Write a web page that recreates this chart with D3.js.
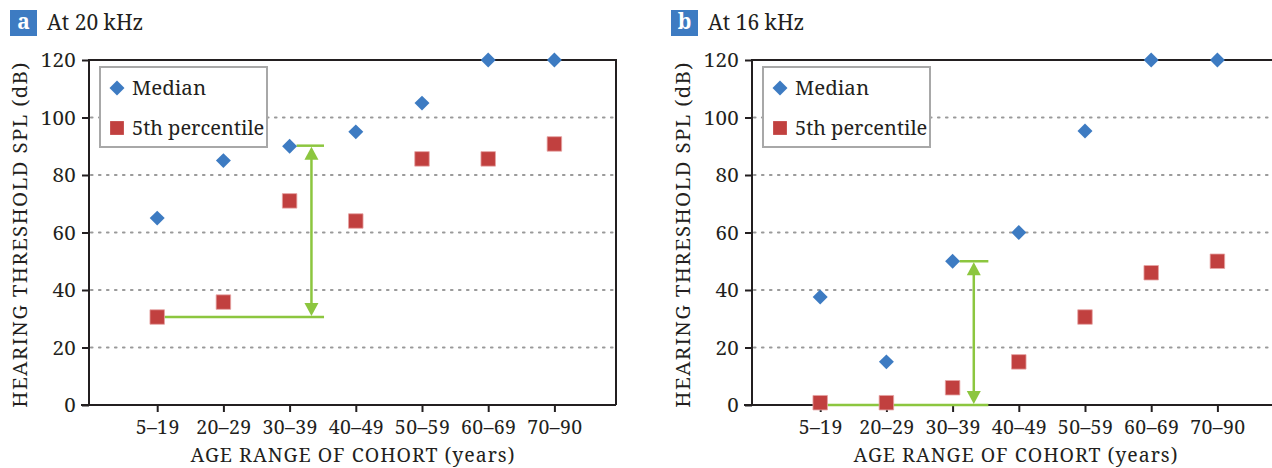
<!DOCTYPE html>
<html>
<head>
<meta charset="utf-8">
<script src="https://cdn.jsdelivr.net/npm/d3@7"></script>
<style>
  body { margin: 0; background: #fff; }
</style>
</head>
<body>
<svg id="chart" width="1272" height="468" style="font-family: 'Noto Serif', 'Liberation Serif', serif;"></svg>
<script>
// data
var cohorts = ["5–19", "20–29", "30–39", "40–49", "50–59", "60–69", "70–90"];
var yTicks = [0, 20, 40, 60, 80, 100, 120];
var gridTicks = [20, 40, 60, 80, 100];

var median20 = [65, 85, 90, 95, 105, 120, 120];
var p5th20 = [30.6, 35.8, 71, 64, 85.6, 85.6, 90.8];
var median16 = [37.6, 15, 50, 60, 95.3, 120, 120];
var p5th16 = [0.8, 0.8, 6, 15, 30.6, 46, 50];

// arrow annotations: [from value, to value, x position, right end], in data units
var arrow20 = [30.6, 90.2, 3.33, 3.52];
var arrow16 = [0, 50, 3.32, 3.54];

var blue = "#3d7bc2", red = "#c1403f", green = "#8cc63f", ink = "#231f20";
var font = "'Noto Serif', 'Liberation Serif', serif";

var svg = d3.select("#chart");

function label(sel, size) {
  return sel.style("font-family", font).style("font-size", size + "px").attr("fill", ink);
}

function panel(opts) {
  var left = opts.left, top = 60, bottom = 405;
  var g = svg.append("g");

  var x = d3.scaleLinear().domain([0, 8]).range([left + 2, left + 2 + 8 * 66.2]);
  var y = d3.scaleLinear().domain([0, 120]).range([bottom, top]);

  // panel label
  g.append("rect").attr("x", opts.labelX).attr("y", 10).attr("width", 27).attr("height", 26)
    .attr("fill", blue);
  label(g.append("text"), 21).attr("x", opts.labelX + 13.5).attr("y", 29).attr("text-anchor", "middle")
    .attr("fill", "#fff").style("font-weight", "bold").text(opts.letter);
  label(g.append("text"), 21).attr("x", opts.labelX + 37).attr("y", 30).text(opts.title);

  // dotted grid
  g.selectAll(".grid").data(gridTicks).enter().append("line")
    .attr("x1", left + 2).attr("x2", opts.right)
    .attr("y1", function (d) { return y(d); }).attr("y2", function (d) { return y(d); })
    .attr("stroke", "#9a9a9a").attr("stroke-width", 2.2)
    .attr("stroke-dasharray", "1.5,6.5").attr("stroke-linecap", "round");

  // frame
  g.append("path")
    .attr("d", "M" + left + "," + bottom + "V" + top + "H" + opts.right + (opts.closed ? "V" + bottom : ""))
    .attr("fill", "none").attr("stroke", ink).attr("stroke-width", 2);

  // y axis
  var yAxis = g.append("g").attr("transform", "translate(" + left + ",0)")
    .call(d3.axisLeft(y).tickValues(yTicks).tickSize(7).tickPadding(6));
  yAxis.select(".domain").remove();
  yAxis.selectAll("line").attr("stroke", ink).attr("stroke-width", 2);
  label(yAxis.selectAll("text"), 20.5).style("letter-spacing", "0.3px");

  // x axis
  var xAxis = g.append("g").attr("transform", "translate(0," + bottom + ")")
    .call(d3.axisBottom(x).tickValues(d3.range(1, 8)).tickSize(7).tickPadding(8)
      .tickFormat(function (d) { return cohorts[d - 1]; }));
  xAxis.select(".domain").remove();
  xAxis.selectAll("line").attr("stroke", ink).attr("stroke-width", 2);
  label(xAxis.selectAll("text"), 19.5).style("letter-spacing", "0.4px");
  g.append("line").attr("x1", left - 8).attr("x2", opts.right)
    .attr("y1", bottom).attr("y2", bottom).attr("stroke", ink).attr("stroke-width", 2);

  // axis titles
  label(g.append("text"), 20.5)
    .attr("transform", "translate(" + (left - 62) + "," + ((top + bottom) / 2 + 2) + ") rotate(-90)")
    .attr("text-anchor", "middle").style("letter-spacing", "1.3px").text("HEARING THRESHOLD SPL (dB)");
  label(g.append("text"), 19.5).attr("x", left + 264).attr("y", 461.5).attr("text-anchor", "middle")
    .style("letter-spacing", "1px").text("AGE RANGE OF COHORT (years)");

  // green arrow
  var a = opts.arrow, gx = x(a[2]), gEnd = x(a[3]);
  var ga = g.append("g").attr("stroke", green).attr("stroke-width", 2.5).attr("fill", "none");
  ga.append("line").attr("x1", x(1)).attr("x2", gEnd).attr("y1", y(a[0])).attr("y2", y(a[0]));
  ga.append("line").attr("x1", x(3) + 7).attr("x2", gEnd).attr("y1", y(a[1])).attr("y2", y(a[1]));
  ga.append("line").attr("x1", gx).attr("x2", gx).attr("y1", y(a[1]) + 8).attr("y2", y(a[0]) - 8);
  g.append("path").attr("fill", green)
    .attr("d", "M" + gx + "," + (y(a[1]) + 1) + "l-7,13h14z");
  g.append("path").attr("fill", green)
    .attr("d", "M" + gx + "," + (y(a[0]) - 1) + "l-7,-13h14z");

  // markers
  var diamond = d3.symbol().type(d3.symbolSquare).size(112);
  var square = d3.symbol().type(d3.symbolSquare).size(210);

  g.selectAll(".p5").data(opts.p5).enter().append("path")
    .attr("d", square)
    .attr("transform", function (d, i) { return "translate(" + x(i + 1) + "," + y(d) + ")"; })
    .attr("fill", red).attr("stroke", "#e6a3a3").attr("stroke-width", 0.8);

  g.selectAll(".med").data(opts.median).enter().append("path")
    .attr("d", diamond)
    .attr("transform", function (d, i) { return "translate(" + x(i + 1) + "," + y(d) + ") rotate(45)"; })
    .attr("fill", blue);

  // legend
  var lg = g.append("g").attr("transform", "translate(" + (left + 11) + ",67)");
  lg.append("rect").attr("width", 167).attr("height", 80)
    .attr("fill", "#fff").attr("stroke", "#a8a8a8").attr("stroke-width", 2);
  lg.append("path").attr("d", diamond).attr("transform", "translate(17,21) rotate(45)").attr("fill", blue);
  label(lg.append("text"), 20.5).attr("x", 32).attr("y", 28).text("Median");
  lg.append("path").attr("d", d3.symbol().type(d3.symbolSquare).size(190))
    .attr("transform", "translate(17,61)").attr("fill", red);
  label(lg.append("text"), 20).attr("x", 32).attr("y", 68).text("5th percentile");
}

panel({ left: 89, right: 616, closed: true, labelX: 10, letter: "a", title: "At 20 kHz",
        median: median20, p5: p5th20, arrow: arrow20 });
panel({ left: 752, right: 1272, closed: false, labelX: 671, letter: "b", title: "At 16 kHz",
        median: median16, p5: p5th16, arrow: arrow16 });
</script>
</body>
</html>
